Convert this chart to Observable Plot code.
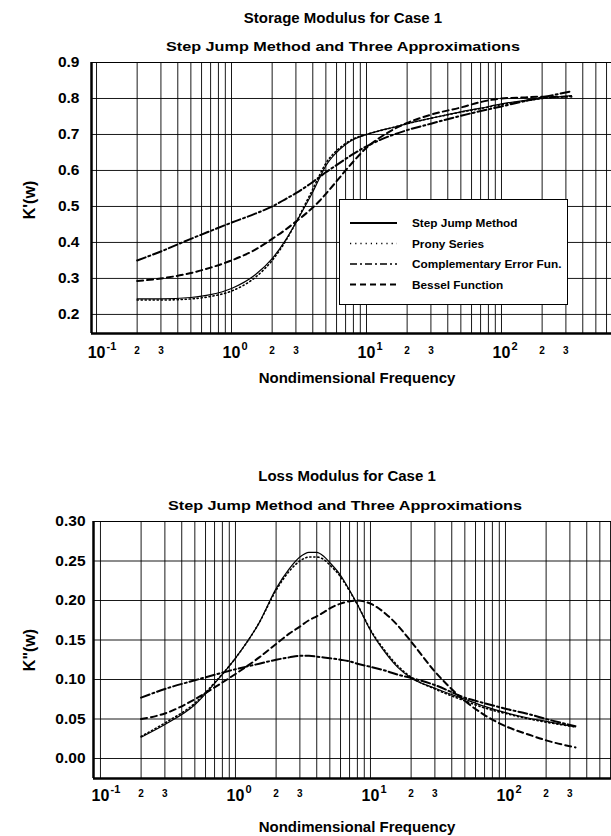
<!DOCTYPE html>
<html><head><meta charset="utf-8">
<script src="https://cdn.jsdelivr.net/npm/d3@7"></script>
<script src="https://cdn.jsdelivr.net/npm/@observablehq/plot@0.6"></script>
<style>
body{margin:0;background:#fff;}
#wrap{position:relative;width:611px;height:836px;overflow:hidden;font-family:"Liberation Sans",Arial,sans-serif;font-weight:bold;color:#000;}
.t{position:absolute;white-space:nowrap;transform:translate(-50%,-50%);}
.st{position:absolute;white-space:nowrap;transform:translate(-50%,-50%) scaleX(1.2);}
.yl{position:absolute;white-space:nowrap;transform:translate(-50%,-50%) rotate(-90deg);font-size:16px;}
.abs{position:absolute;left:0;}
.legend{position:absolute;background:#fff;border:1.5px solid #000;box-sizing:border-box;}
</style></head><body><div id="wrap"></div>
<script>
// ---------- data ----------
const seriesNames = ["Step Jump Method", "Prony Series", "Complementary Error Fun.", "Bessel Function"];
const freq = [0.2,0.3,0.5,0.7,1,1.5,2,2.5,3,3.5,4,4.5,5,6,7,8,10,13,16,20,30,50,70,100,150,200,330];

// Storage modulus K'(w)
const storageStep  = [0.243,0.243,0.247,0.255,0.272,0.31,0.355,0.405,0.455,0.50,0.54,0.58,0.613,0.65,0.672,0.686,0.70,0.712,0.72,0.73,0.745,0.763,0.773,0.785,0.795,0.80,0.808];
const storageProny = [0.24,0.24,0.243,0.25,0.265,0.303,0.35,0.402,0.455,0.505,0.548,0.588,0.62,0.655,0.675,0.688,0.70,0.712,0.72,0.73,0.745,0.762,0.772,0.783,0.793,0.80,0.806];
const storageErf   = [0.35,0.375,0.41,0.432,0.455,0.48,0.50,0.52,0.537,0.553,0.568,0.582,0.595,0.615,0.632,0.646,0.667,0.687,0.70,0.712,0.73,0.752,0.765,0.778,0.793,0.803,0.82];
const storageBessel= [0.293,0.30,0.315,0.33,0.35,0.38,0.41,0.435,0.458,0.478,0.497,0.516,0.535,0.57,0.60,0.625,0.663,0.695,0.715,0.732,0.755,0.775,0.79,0.80,0.803,0.805,0.805];

// Loss modulus K"(w)
const lossStep  = [0.027,0.043,0.068,0.095,0.127,0.172,0.215,0.24,0.255,0.261,0.261,0.256,0.248,0.232,0.213,0.195,0.162,0.133,0.115,0.102,0.089,0.075,0.066,0.058,0.051,0.047,0.04];
const lossProny = [0.028,0.045,0.07,0.096,0.127,0.172,0.213,0.237,0.25,0.255,0.255,0.252,0.245,0.23,0.212,0.195,0.163,0.135,0.117,0.103,0.088,0.073,0.064,0.057,0.05,0.046,0.04];
const lossErf   = [0.077,0.088,0.099,0.106,0.113,0.12,0.125,0.128,0.13,0.13,0.129,0.128,0.127,0.125,0.123,0.12,0.116,0.111,0.106,0.102,0.093,0.077,0.07,0.063,0.056,0.05,0.041];
const lossBessel= [0.05,0.057,0.075,0.09,0.107,0.128,0.145,0.158,0.167,0.175,0.18,0.185,0.19,0.196,0.199,0.2,0.196,0.183,0.168,0.148,0.11,0.073,0.055,0.041,0.03,0.023,0.014];

// tick labels
const decadeTicks = [0.1, 1, 10, 100];
const decadeExp = ["-1", "0", "1", "2"];
const minorTicks = [0.2, 0.3, 2, 3, 20, 30, 200, 300];
const minorLabels = ["2", "3", "2", "3", "2", "3", "2", "3"];
const storageYTicks = [0.2,0.3,0.4,0.5,0.6,0.7,0.8,0.9];
const lossYTicks = [0.00,0.05,0.10,0.15,0.20,0.25,0.30];

// ---------- drawing ----------
const gridTicks = d3.range(-1, 3).flatMap(e => d3.range(1, 10).map(m => m * Math.pow(10, e)));
const styles = [
  {strokeWidth: 1.2},
  {strokeWidth: 1.6, strokeDasharray: "1.2,2.8"},
  {strokeWidth: 2, strokeDasharray: "9,3,2,3"},
  {strokeWidth: 2, strokeDasharray: "6,4"}
];

function chart(o) {
  const vals = o.values;
  return Plot.plot({
    width: 611, height: o.height,
    marginTop: o.mt, marginBottom: o.mb, marginLeft: o.ml, marginRight: 0,
    style: {fontFamily: "'Liberation Sans', Arial, sans-serif", fontWeight: "bold", color: "#000", background: "transparent", overflow: "visible"},
    x: {type: "log", domain: o.xDomain, axis: null},
    y: {domain: o.yDomain, axis: null},
    marks: [
      Plot.gridX(gridTicks, {stroke: "#000", strokeOpacity: 0.9, strokeWidth: 1}),
      Plot.gridY(o.yTicks, {stroke: "#000", strokeOpacity: 0.9, strokeWidth: 1}),
      Plot.frame({stroke: "#000", strokeWidth: 1}),
      Plot.ruleX([o.xDomain[0]], {stroke: "#000", strokeWidth: 2.5}),
      Plot.ruleY([o.yDomain[0]], {stroke: "#000", strokeWidth: 2.5}),
      Plot.axisY(o.yTicks, {tickSize: 0, tickPadding: o.tp, tickFormat: o.fmt, fontSize: 15.5, fontWeight: "bold", label: null}),
      Plot.text(decadeTicks, {x: d => d, text: () => "10", frameAnchor: "bottom", dy: o.dyDec, fontSize: 16, fontWeight: "bold"}),
      Plot.text(decadeTicks, {x: d => d, text: (d, i) => decadeExp[i], frameAnchor: "bottom", dy: o.dyDec - 8, dx: 10, textAnchor: "start", fontSize: 11, fontWeight: "bold"}),
      Plot.text(minorTicks, {x: d => d, text: (d, i) => minorLabels[i], frameAnchor: "bottom", dy: o.dyDec - 4, fontSize: 10, fontWeight: "bold"}),
      ...vals.map((v, i) => Plot.line(freq, {x: freq, y: v, stroke: "#000", curve: "monotone-x", ...styles[i]}))
    ]
  });
}

const wrap = document.getElementById("wrap");

const top1 = chart({height: 400, mt: 62, mb: 67, ml: 91, tp: 12,
  xDomain: [0.0918, 653], yDomain: [0.147, 0.9], yTicks: storageYTicks, fmt: d3.format(".1f"),
  dyDec: 24, values: [storageStep, storageProny, storageErf, storageBessel]});
top1.classList.add("abs"); top1.style.top = "0px";
wrap.appendChild(top1);

const bot = chart({height: 436, mt: 121, mb: 58, ml: 93, tp: 8,
  xDomain: [0.0888, 610], yDomain: [-0.0253, 0.30], yTicks: lossYTicks, fmt: d3.format(".2f"),
  dyDec: 22, values: [lossStep, lossProny, lossErf, lossBessel]});
bot.classList.add("abs"); bot.style.top = "400px";
wrap.appendChild(bot);

function addText(txt, x, y, size, cls) {
  const d = document.createElement("div");
  d.className = cls || "t";
  d.textContent = txt;
  d.style.left = x + "px"; d.style.top = y + "px"; d.style.fontSize = size + "px";
  wrap.appendChild(d);
}
addText("Storage Modulus for Case 1", 343, 17, 15);
addText("Step Jump Method and Three Approximations", 343, 46, 13.5, "st");
addText("Nondimensional Frequency", 357, 377, 15);
addText("K'(w)", 30, 200, 16, "yl");
addText("Loss Modulus for Case 1", 347, 475, 15);
addText("Step Jump Method and Three Approximations", 345, 505, 13.5, "st");
addText("Nondimensional Frequency", 357, 826, 15);
addText("K\"(w)", 30, 650, 16, "yl");

// legend
const lg = document.createElement("div");
lg.className = "legend";
lg.style.left = "339px"; lg.style.top = "199px"; lg.style.width = "229px"; lg.style.height = "106px";
const ns = "http://www.w3.org/2000/svg";
const lsvg = document.createElementNS(ns, "svg");
lsvg.setAttribute("width", "226"); lsvg.setAttribute("height", "103");
lsvg.style.display = "block";
const legStyles = [{w: 2.2}, {w: 1.6, da: "1.2,4"}, {w: 1.6, da: "7,3,2,3"}, {w: 2, da: "6,4"}];
seriesNames.forEach((name, i) => {
  const y = 23 + i * 20.5;
  const ln = document.createElementNS(ns, "line");
  ln.setAttribute("x1", 10); ln.setAttribute("x2", 57);
  ln.setAttribute("y1", y); ln.setAttribute("y2", y);
  ln.setAttribute("stroke", "#000"); ln.setAttribute("stroke-width", legStyles[i].w);
  if (legStyles[i].da) ln.setAttribute("stroke-dasharray", legStyles[i].da);
  lsvg.appendChild(ln);
  const tx = document.createElementNS(ns, "text");
  tx.setAttribute("x", 72); tx.setAttribute("y", y + 4);
  tx.setAttribute("font-size", "11.8"); tx.setAttribute("font-weight", "bold");
  tx.setAttribute("font-family", "'Liberation Sans', Arial, sans-serif");
  tx.textContent = name;
  lsvg.appendChild(tx);
});
lg.appendChild(lsvg);
wrap.appendChild(lg);
</script>
</body></html>
